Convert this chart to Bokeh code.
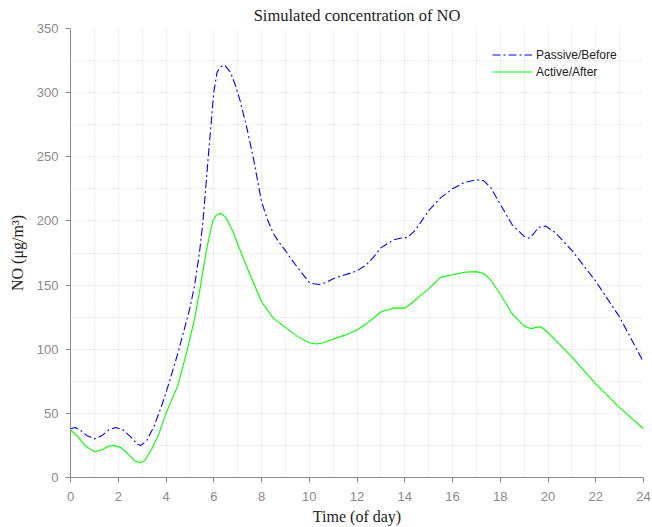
from bokeh.plotting import figure
from bokeh.models import Legend, LegendItem, FixedTicker, Range1d
from bokeh.embed import file_html
from bokeh.resources import INLINE

# ---- data ----
t_passive = [0, 0.2, 0.4, 0.7, 1.0, 1.3, 1.6, 1.9, 2.2, 2.5, 2.8, 2.95, 3.2,
             3.5, 3.8, 4.0, 4.5, 5.0, 5.2, 5.4, 5.55, 5.77, 6.0, 6.14, 6.28,
             6.45, 6.7, 6.9, 7.1, 7.38, 7.66, 8.0, 8.25, 8.5, 8.75, 9.0, 9.25,
             9.5, 9.75, 10.0, 10.2, 10.4, 10.7, 11.0, 11.5, 12.0, 12.4, 12.7,
             13.0, 13.5, 13.8, 14.1, 14.4, 14.6, 15.0, 15.5, 16.0, 16.5, 17.0,
             17.3, 17.6, 18.0, 18.5, 19.0, 19.2, 19.4, 19.6, 19.9, 20.3, 21.0,
             22.0, 23.0, 24.0]
no_passive = [38, 39, 37, 32.5, 30, 32.5, 37, 39, 37, 32, 26, 25, 29,
              40, 55, 66, 97, 132, 150, 175, 200, 250, 300, 316, 320,
              321.5, 316, 306, 294, 273, 249, 215, 201, 190, 183, 177, 170,
              164, 158, 152, 151, 150.5, 152, 155, 158, 161, 166, 172,
              179, 185, 186.5, 187, 192, 197, 208, 218, 225, 230, 232,
              231.5, 226, 213, 197, 188, 186.5, 190, 195, 196, 191, 177,
              153, 125, 90]

t_active = [0, 0.3, 0.6, 1.0, 1.3, 1.6, 1.8, 2.1, 2.4, 2.7, 2.9, 3.1, 3.4,
            3.7, 4.0, 4.5, 4.9, 5.2, 5.45, 5.7, 5.96, 6.1, 6.3, 6.5, 6.8,
            7.0, 7.5, 8.0, 8.5, 9.0, 9.5, 10.0, 10.3, 10.6, 11.0, 11.5, 12.0,
            12.4, 13.0, 13.5, 14.0, 14.3, 14.6, 15.0, 15.5, 16.0, 16.5, 17.0,
            17.3, 17.6, 18.0, 18.5, 19.0, 19.3, 19.5, 19.7, 20.0, 21.0, 22.0,
            23.0, 24.0]
no_active = [37, 32, 25, 20, 21.5, 24.5, 25, 23.5, 18.5, 13, 11.5, 13, 22,
             34, 50, 72, 100, 124, 150, 178, 200, 204.5, 206, 203, 192,
             182, 159, 137, 124, 117, 110, 105, 104, 105, 108, 111, 115,
             120, 129, 132, 132, 136, 141, 147, 156, 158, 160, 160.5,
             159, 154, 143, 127.5, 118, 116, 117, 117.5, 113, 94, 73,
             54.5, 38]

x_ticks = list(range(0, 25, 2))
x_minor = list(range(1, 24, 2))
y_ticks = list(range(0, 351, 50))
y_minor = list(range(25, 350, 50))

title_text = "Simulated concentration of NO"
x_label = "Time (of day)"
y_label = "NO (\u03bcg/m\u00b3)"
series_names = ["Passive/Before", "Active/After"]

# ---- figure ----
p = figure(width=652, height=527, output_backend="svg", toolbar_location=None,
           x_range=Range1d(0, 24), y_range=Range1d(0, 350),
           min_border_left=70, min_border_right=9, min_border_top=27,
           min_border_bottom=49)
p.outline_line_color = None
p.background_fill_color = "white"
p.border_fill_color = "white"

p.title.text = title_text
p.title.align = "center"
p.title.text_font = "Liberation Serif"
p.title.text_font_size = "16.5px"
p.title.text_font_style = "normal"
p.title.text_color = "#222222"
p.title.standoff = 7

grey = "#8a8a8a"
for ax, ticks, minor in ((p.xaxis, x_ticks, x_minor), (p.yaxis, y_ticks, y_minor)):
    ax.ticker = FixedTicker(ticks=ticks, minor_ticks=minor)
    ax.axis_line_color = grey
    ax.major_tick_line_color = grey
    ax.minor_tick_line_color = None
    ax.major_tick_in = 0
    ax.major_tick_out = 5
    ax.major_label_text_font = "Liberation Sans"
    ax.major_label_text_font_size = "13px"
    ax.major_label_text_color = grey
    ax.axis_label_text_font = "Liberation Serif"
    ax.axis_label_text_font_size = "16px"
    ax.axis_label_text_font_style = "normal"
    ax.axis_label_text_color = "#222222"

p.xaxis.axis_label = x_label
p.yaxis.axis_label = y_label
p.xaxis.major_label_standoff = 9
p.yaxis.major_label_standoff = 7
p.xaxis.axis_label_standoff = 4
p.yaxis.axis_label_standoff = 8

for g in (p.xgrid, p.ygrid):
    g.grid_line_color = "#d6d6d6"
    g.grid_line_dash = "1 2"
    g.minor_grid_line_color = "#d6d6d6"
    g.minor_grid_line_dash = "1 2"

r1 = p.line(t_passive, no_passive, line_color="#0000ff", line_width=1.1,
            line_dash="8 3 2 3", line_join="round")
r2 = p.line(t_active, no_active, line_color="#00ff00", line_width=1.1,
            line_join="round")

legend = Legend(items=[LegendItem(label=series_names[0], renderers=[r1]),
                       LegendItem(label=series_names[1], renderers=[r2])],
                location=(422, 397))
legend.border_line_color = None
legend.background_fill_alpha = 0
legend.padding = 0
legend.margin = 0
legend.spacing = 0
legend.glyph_width = 40
legend.glyph_height = 17
legend.label_height = 17
legend.label_standoff = 4
legend.label_text_font = "Liberation Sans"
legend.label_text_font_size = "12px"
legend.label_text_color = "#222222"
p.add_layout(legend)

open("out.html", "w").write(file_html(p, INLINE))
